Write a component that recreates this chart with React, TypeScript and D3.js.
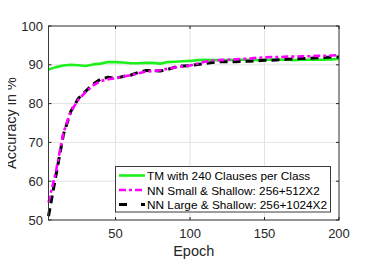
import React, { useEffect, useRef } from 'react';
import * as d3 from 'd3';

const epochs = [5, 10, 15, 20, 25, 30, 35, 40, 45, 50, 55, 60, 65, 70, 75, 80, 85, 90, 95, 100,
  105, 110, 115, 120, 125, 130, 135, 140, 145, 150, 155, 160, 165, 170, 175, 180, 185, 190, 195, 200];

const tmAcc = [88.8, 89.4, 89.8, 90.0, 89.9, 89.7, 90.1, 90.3, 90.7, 90.7, 90.6, 90.4, 90.4, 90.5, 90.5, 90.3, 90.7, 90.8, 90.9, 91.0,
  91.2, 91.3, 91.2, 91.2, 91.2, 91.3, 91.3, 91.3, 91.2, 91.3, 91.3, 91.3, 91.3, 91.2, 91.3, 91.3, 91.3, 91.3, 91.4, 91.5];

const nnSmallAcc = [54.5, 62.5, 72.5, 78.0, 81.0, 83.0, 84.7, 85.8, 86.3, 86.5, 87.0, 87.3, 87.8, 88.2, 88.4, 88.6, 89.0, 89.3, 89.6, 89.8,
  90.3, 90.8, 91.1, 91.2, 91.3, 91.4, 91.5, 91.6, 91.8, 91.9, 92.0, 92.0, 92.1, 92.1, 92.2, 92.2, 92.3, 92.3, 92.4, 92.5];

const nnLargeAcc = [51.0, 61.5, 72.0, 78.0, 81.3, 83.2, 85.0, 86.3, 86.8, 86.5, 87.0, 87.3, 88.0, 88.5, 88.5, 88.4, 88.8, 89.4, 89.7, 89.8,
  90.1, 90.3, 90.6, 90.8, 90.8, 90.8, 90.9, 90.9, 91.0, 91.2, 91.2, 91.3, 91.4, 91.5, 91.6, 91.7, 91.8, 91.9, 92.0, 92.0];

const xTicks = [50, 100, 150, 200];
const yTicks = [50, 60, 70, 80, 90, 100];

const seriesNames = [
  'TM with 240 Clauses per Class',
  'NN Small & Shallow: 256+512X2',
  'NN Large & Shallow: 256+1024X2',
];

const App: React.FC = () => {
  const svgRef = useRef<SVGSVGElement>(null);

  useEffect(() => {
    if (!svgRef.current) return;
    const svg = d3.select(svgRef.current);
    svg.selectAll('*').remove();

    const left = 48.5, right = 339, top = 26, bottom = 220;
    const x = d3.scaleLinear().domain([5, 200]).range([left, right]);
    const y = d3.scaleLinear().domain([50, 100]).range([bottom, top]);
    const font = 'Liberation Sans, Arial, Helvetica, sans-serif';
    const axisColor = '#262626';

    svg.append('rect').attr('x', left).attr('y', top)
      .attr('width', right - left).attr('height', bottom - top).attr('fill', '#fff');

    // grid
    const grid = svg.append('g').attr('stroke', '#e3e3e3').attr('stroke-width', 1);
    xTicks.forEach(t => grid.append('line')
      .attr('x1', x(t)).attr('x2', x(t)).attr('y1', top).attr('y2', bottom));
    yTicks.forEach(t => grid.append('line')
      .attr('x1', left).attr('x2', right).attr('y1', y(t)).attr('y2', y(t)));

    // series
    const mk = (vals: number[]) => d3.line<number>()
      .x((_, i) => x(epochs[i]))
      .y(d => y(d))(vals);

    const styles = [
      { vals: tmAcc, color: '#1ef01e', width: 2.6, dash: null as string | null },
      { vals: nnSmallAcc, color: '#ff00ff', width: 2.6, dash: '7,3,3,3' },
      { vals: nnLargeAcc, color: '#000000', width: 3, dash: '8,5' },
    ];

    const plot = svg.append('g');
    [styles[0], styles[2], styles[1]].forEach(s => {
      plot.append('path')
        .attr('d', mk(s.vals))
        .attr('fill', 'none')
        .attr('stroke', s.color)
        .attr('stroke-width', s.width)
        .attr('stroke-dasharray', s.dash)
        .attr('stroke-linejoin', 'round');
    });

    // box + ticks
    const ax = svg.append('g').attr('stroke', axisColor).attr('stroke-width', 1);
    ax.append('rect').attr('x', left).attr('y', top)
      .attr('width', right - left).attr('height', bottom - top)
      .attr('fill', 'none').attr('stroke', '#3a3a3a');
    xTicks.forEach(t => {
      ax.append('line').attr('x1', x(t)).attr('x2', x(t)).attr('y1', bottom).attr('y2', bottom - 3);
      ax.append('line').attr('x1', x(t)).attr('x2', x(t)).attr('y1', top).attr('y2', top + 3);
    });
    yTicks.forEach(t => {
      ax.append('line').attr('x1', left).attr('x2', left + 3).attr('y1', y(t)).attr('y2', y(t));
      ax.append('line').attr('x1', right).attr('x2', right - 3).attr('y1', y(t)).attr('y2', y(t));
    });

    const txt = svg.append('g').attr('font-family', font).attr('fill', axisColor);
    xTicks.forEach(t => txt.append('text')
      .attr('x', x(t)).attr('y', 238).attr('text-anchor', 'middle')
      .attr('font-size', 13).text(t));
    yTicks.forEach(t => txt.append('text')
      .attr('x', 43).attr('y', y(t) + 4.5).attr('text-anchor', 'end')
      .attr('font-size', 13).text(t));
    txt.append('text').attr('x', (left + right) / 2).attr('y', 256)
      .attr('text-anchor', 'middle').attr('font-size', 14.5).text('Epoch');
    txt.append('text')
      .attr('transform', `translate(16,${(top + bottom) / 2}) rotate(-90)`)
      .attr('text-anchor', 'middle').attr('font-size', 14.5).text('Accuracy in %');

    // legend
    const lg = svg.append('g');
    lg.append('rect').attr('x', 115.5).attr('y', 166.5).attr('width', 215).attr('height', 45.5)
      .attr('fill', '#fff').attr('stroke', '#3a3a3a').attr('stroke-width', 1);
    styles.forEach((s, i) => {
      const ry = 175.5 + i * 14.5;
      lg.append('line').attr('x1', 119).attr('x2', 145).attr('y1', ry).attr('y2', ry)
        .attr('stroke', s.color).attr('stroke-width', s.width)
        .attr('stroke-dasharray', i === 2 ? '8,14' : s.dash);
      lg.append('text').attr('x', 147).attr('y', ry + 4.5)
        .attr('font-family', font).attr('font-size', 11.8).attr('fill', '#000')
        .text(seriesNames[i]);
    });
  }, []);

  return <svg ref={svgRef} width={374} height={275} style={{ display: 'block', margin: '-8px' }} />;
};

export default App;
